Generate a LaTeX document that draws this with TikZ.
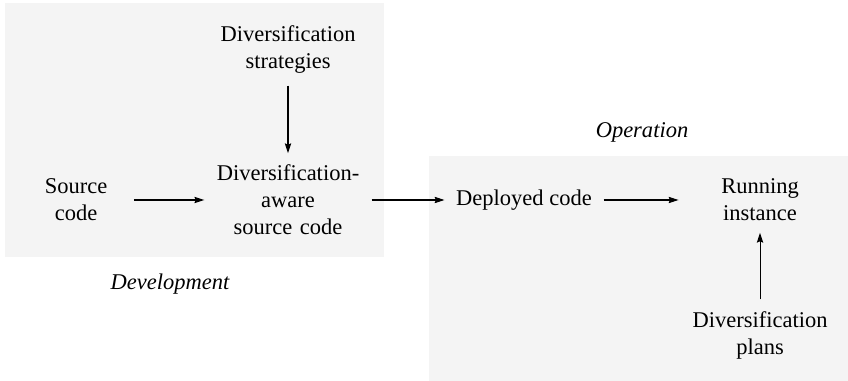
\documentclass[tikz,border=0pt]{standalone}
\usepackage{fontspec}
\setmainfont{Liberation Serif}
\usetikzlibrary{positioning}
\usetikzlibrary{arrows.meta}
\definecolor{phasegray}{gray}{0.955}

\begin{document}
\begin{tikzpicture}[x=0.4444pt, y=-0.4444pt,
  phase/.style={fill=phasegray, draw=none},
  step box/.style={align=center, inner sep=5pt, font=\fontsize{10}{12}\selectfont},
  phase label/.style={font=\fontsize{10}{12}\selectfont\itshape},
  flow/.style={-{Stealth[length=4.4pt, width=2.8pt, inset=0.6pt]}, line width=0.45pt}]
  \useasboundingbox (0,0) rectangle (848,381);
  % the two phases
  \fill[phase] (5,3) rectangle (384,257);
  \fill[phase] (429,156) rectangle (848,381);
  \node[phase label] (dev) at (170,284) {Development};
  \node[phase label] (ops) at (642,132) {Operation};
  % development
  \node[step box, text width=41pt] (src) at (76,200) {Source\\code};
  \node[step box, text width=64pt] (aware) at (288,200) {Diversification\mbox{-}\\aware\\source code};
  \node[step box, text width=62pt] (strat) at (288,50) {Diversification\\strategies};
  % operation
  \node[step box] (deployed) at (524,200) {Deployed code};
  \node[step box, text width=62pt] (running) at (760,200) {Running\\instance};
  \node[step box, text width=62pt] (plans) at (760,335) {Diversification\\plans};
  % connectors
  \draw[flow] (src) -- (aware);
  \draw[flow] (strat) -- (aware);
  \draw[flow] (aware.east) -- (aware.east -| deployed.west);
  \draw[flow] (deployed.east) -- (deployed.east -| running.west);
  \draw[flow] (plans) -- (running);
\end{tikzpicture}
\end{document}
